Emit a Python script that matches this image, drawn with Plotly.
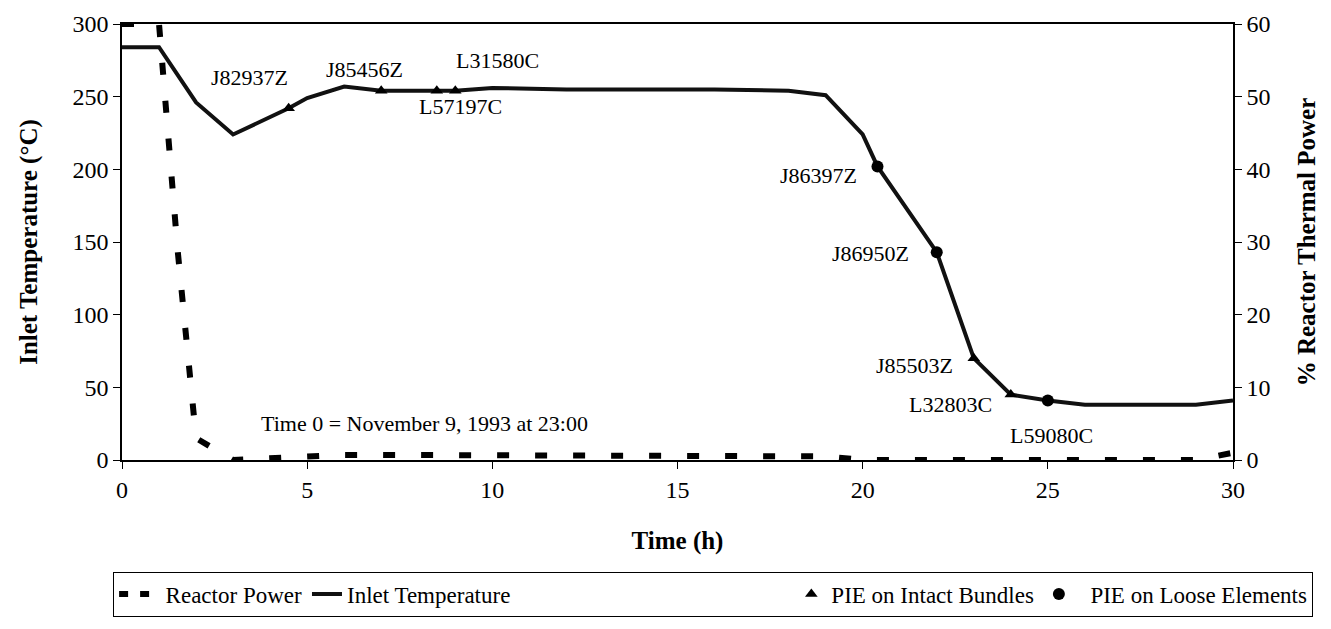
import plotly.graph_objects as go

# ---- data ----
power_t = [0, 1, 1.5, 2, 3, 4, 5, 6, 7, 8, 9, 10, 11, 12, 13, 14, 15, 16, 17, 18, 19,
           20, 21, 22, 23, 24, 25, 26, 27, 28, 29, 30]
power_pct = [60, 60, 29, 3, 0, 0.3, 0.6, 0.7, 0.7, 0.7, 0.7, 0.7, 0.7, 0.7, 0.7, 0.7, 0.7,
             0.7, 0.7, 0.6, 0.5, 0, 0, 0, 0, 0, 0, 0, 0, 0, 0, 1]

temp_t = [0, 1, 2, 3, 4.5, 5, 6, 7, 8.5, 9, 10, 12, 14, 16, 18, 19, 20, 20.4, 22, 23,
          24, 25, 26, 28, 29, 30]
temp_c = [284, 284, 246, 224, 242, 249, 257, 254, 254, 254, 256, 255, 255, 255, 254,
          251, 224, 202, 143, 70, 45, 41, 38, 38, 38, 41]

intact_t = [4.5, 7, 8.5, 9, 23, 24]
intact_c = [242, 254, 254, 254, 70, 45]
intact_ids = ["J82937Z", "J85456Z", "L57197C", "L31580C", "J85503Z", "L32803C"]
intact_label_x = [3.44, 6.56, 9.14, 10.13, 21.4, 22.37]
intact_label_y = [263, 269, 243, 275, 65, 38]

loose_t = [20.4, 22, 25]
loose_c = [202, 143, 41]
loose_ids = ["J86397Z", "J86950Z", "L59080C"]
loose_label_x = [18.8, 20.2, 25.1]
loose_label_y = [196, 142, 17]

note_text = "Time 0 = November 9, 1993 at 23:00"
note_x, note_y = 3.71, 25

x_ticks = [0, 5, 10, 15, 20, 25, 30]
y_ticks = [0, 50, 100, 150, 200, 250, 300]
y2_ticks = [0, 10, 20, 30, 40, 50, 60]

FONT = "Times New Roman, Liberation Serif, serif"
EM = "\u2003"
EN = "\u2002"

fig = go.Figure()

fig.add_trace(go.Scatter(
    x=power_t, y=power_pct, yaxis="y2", mode="lines", name="Reactor Power",
    line=dict(color="black", width=6, dash="12px,26px"),
    showlegend=False,
))
# legend entry for the power series (dash shortened so two dashes show in the key)
fig.add_trace(go.Scatter(
    x=[None], y=[None], yaxis="y2", mode="lines", name=EN + "Reactor Power",
    line=dict(color="black", width=6, dash="9px,12px"),
))
fig.add_trace(go.Scatter(
    x=temp_t, y=temp_c, mode="lines", name="Inlet Temperature" + EM * 12,
    line=dict(color="#111111", width=4),
))
fig.add_trace(go.Scatter(
    x=intact_t, y=intact_c, mode="markers", name="PIE on Intact Bundles",
    marker=dict(symbol="triangle-up", size=11, color="black"),
))
fig.add_trace(go.Scatter(
    x=loose_t, y=loose_c, mode="markers", name=EN + "PIE on Loose Elements",
    marker=dict(symbol="circle", size=12, color="black"),
))

for lx, ly, txt in zip(intact_label_x + loose_label_x, intact_label_y + loose_label_y,
                       intact_ids + loose_ids):
    fig.add_annotation(x=lx, y=ly, text=txt, showarrow=False,
                       font=dict(family=FONT, size=22, color="black"))

fig.add_annotation(x=note_x, y=note_y, text=note_text, showarrow=False, xanchor="left",
                   font=dict(family=FONT, size=22, color="black"))

axis_font = dict(family=FONT, size=24, color="black")
title_font = dict(family=FONT, size=25, color="black")

fig.update_layout(
    width=1323, height=621,
    margin=dict(l=114, r=98, t=16, b=169),
    paper_bgcolor="white", plot_bgcolor="white",
    font=dict(family=FONT, color="black"),
    showlegend=True,
    legend=dict(
        orientation="h", x=-0.008, xanchor="left",
        y=-0.256, yanchor="top",
        bordercolor="black", borderwidth=1,
        font=dict(family=FONT, size=23, color="black"),
        itemwidth=30,
    ),
    xaxis=dict(
        range=[0, 30], tickvals=x_ticks, ticks="outside", ticklen=7, tickwidth=1,
        tickcolor="black", showline=True, linecolor="black", linewidth=1.5,
        mirror=True, showgrid=False, zeroline=False, tickfont=axis_font,
        automargin=False,
        title=dict(text="<b>Time (h)</b>", font=title_font, standoff=30),
    ),
    yaxis=dict(
        range=[0, 300], tickvals=y_ticks, ticks="outside", ticklen=7, tickwidth=1,
        tickcolor="black", showline=True, linecolor="black", linewidth=1.5,
        showgrid=False, zeroline=False, tickfont=axis_font, automargin=False,
        title=dict(text="<b>Inlet Temperature (°C)</b>", font=title_font, standoff=28),
    ),
    yaxis2=dict(
        range=[0, 60], tickvals=y2_ticks, overlaying="y", side="right",
        ticks="outside", ticklen=7, tickwidth=1, tickcolor="black",
        showline=True, linecolor="black", linewidth=1.5, automargin=False,
        showgrid=False, zeroline=False, tickfont=axis_font,
        title=dict(text="<b>% Reactor Thermal Power</b>", font=title_font, standoff=28),
    ),
)

fig.write_html("out.html")
